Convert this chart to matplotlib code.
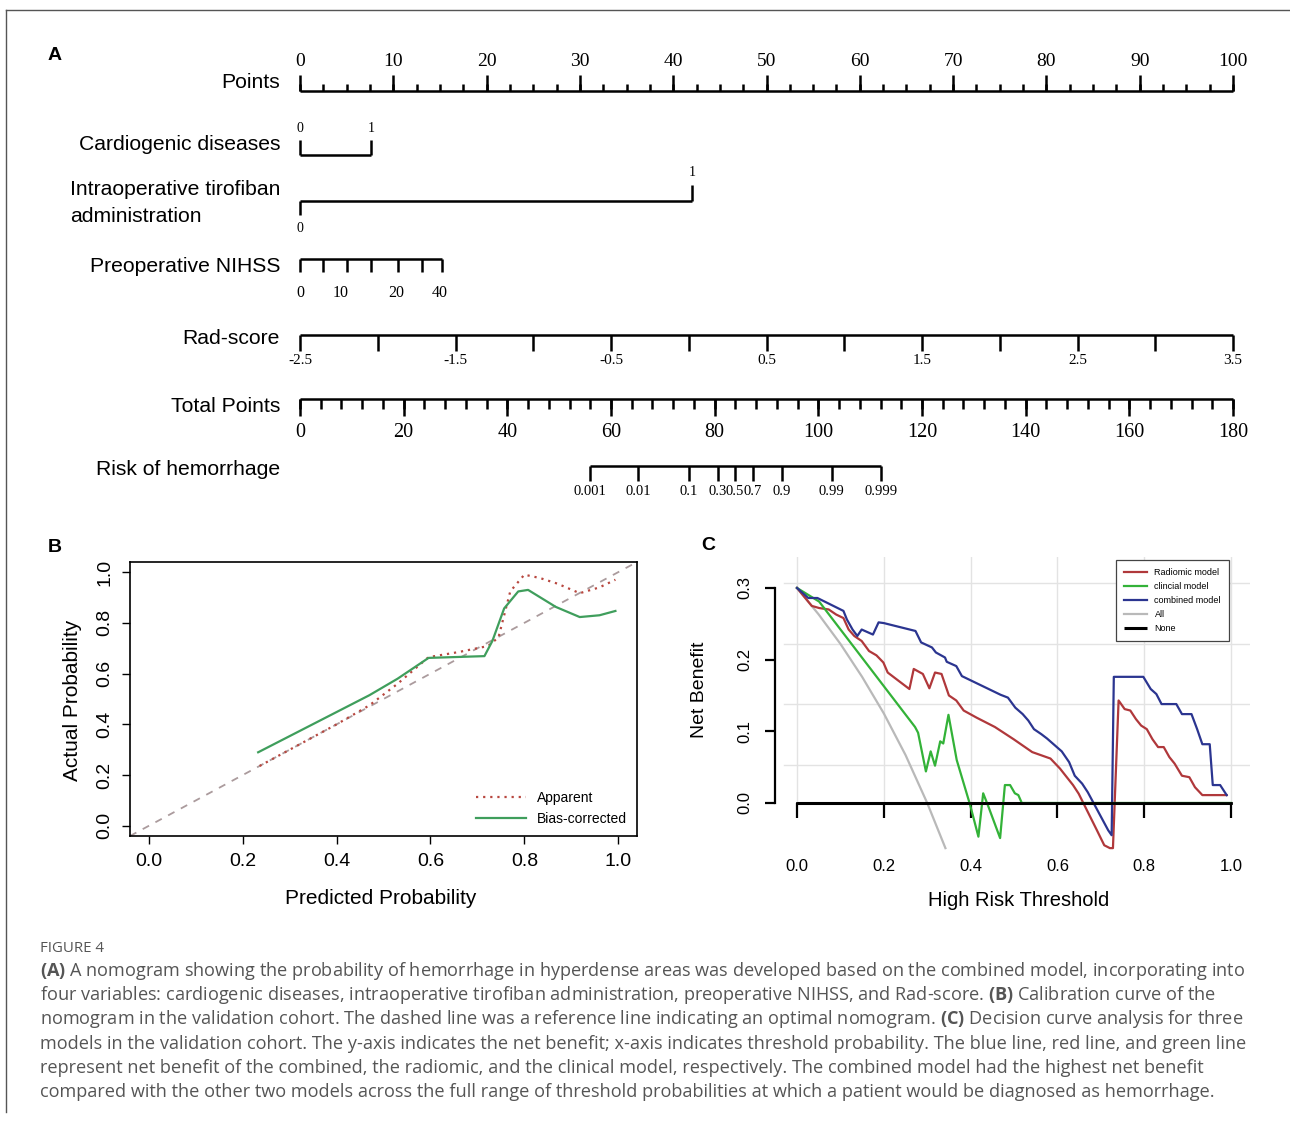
import numpy as np
import matplotlib
matplotlib.use("Agg")
import matplotlib.pyplot as plt
from matplotlib.lines import Line2D

W, H = 1290, 1122
SANS = "Liberation Sans"
SERIF = "Liberation Serif"

plt.rcParams["font.family"] = [SANS, "DejaVu Sans"]
plt.rcParams["mathtext.fontset"] = "custom"
plt.rcParams["mathtext.rm"] = "Open Sans"
plt.rcParams["mathtext.bf"] = "Open Sans:bold"

# ---------------- data: panel A (nomogram, positions in "Points" units)
points_major = np.arange(0, 101, 10)
points_minor = np.arange(0, 100.1, 2.5)
cardio_pts = [0, 7.6]
cardio_lab = ["0", "1"]
tiro_pts = [0, 42.0]
tiro_lab = ["0", "1"]
nihss_tick_pts = [0, 2.5, 5.0, 7.6, 10.5, 13.1, 15.2]
nihss_lab_pts = [0, 4.4, 10.3, 15.0]
nihss_lab = ["0", "10", "20", "40"]
rad_ticks = np.arange(-2.5, 3.51, 0.5)
rad_labels = [-2.5, -1.5, -0.5, 0.5, 1.5, 2.5, 3.5]
total_minor = np.arange(0, 181, 4)
total_major = np.arange(0, 181, 20)
risk_labels = ["0.001", "0.01", "0.1", "0.3", "0.5", "0.7", "0.9", "0.99", "0.999"]
risk_total = [55.9, 65.2, 75.0, 80.6, 83.9, 87.4, 93.0, 102.6, 112.1]

# ---------------- data: panel B (calibration)
app_x = [0.236, 0.30, 0.40, 0.47, 0.53, 0.596, 0.66, 0.723, 0.745, 0.77, 0.80, 0.833, 0.87, 0.918, 0.96, 0.994]
app_y = [0.236, 0.30, 0.40, 0.475, 0.56, 0.665, 0.685, 0.709, 0.743, 0.924, 0.99, 0.977, 0.955, 0.917, 0.94, 0.97]
bc_x = [0.233, 0.47, 0.53, 0.596, 0.715, 0.732, 0.757, 0.787, 0.808, 0.867, 0.918, 0.96, 0.994]
bc_y = [0.29, 0.515, 0.58, 0.662, 0.669, 0.729, 0.857, 0.924, 0.930, 0.863, 0.823, 0.83, 0.847]

# ---------------- data: panel C (decision curves)
comb_x = [0, 0.026, 0.047, 0.077, 0.107, 0.115, 0.128, 0.139, 0.149, 0.175, 0.188, 0.2, 0.273, 0.286,
          0.311, 0.32, 0.341, 0.345, 0.367, 0.38, 0.469, 0.486, 0.503, 0.52, 0.533, 0.546, 0.563,
          0.576, 0.61, 0.627, 0.64, 0.657, 0.67, 0.717, 0.725, 0.73, 0.798, 0.815, 0.828, 0.84,
          0.874, 0.887, 0.909, 0.922, 0.934, 0.951, 0.958, 0.975, 0.99]
comb_y = [0.3, 0.286, 0.286, 0.277, 0.268, 0.256, 0.242, 0.233, 0.242, 0.235, 0.252, 0.251, 0.240, 0.224,
          0.217, 0.21, 0.203, 0.197, 0.191, 0.177, 0.151, 0.147, 0.133, 0.124, 0.115, 0.103, 0.096,
          0.090, 0.072, 0.057, 0.038, 0.027, 0.015, -0.038, -0.045, 0.176, 0.176, 0.159, 0.152, 0.138,
          0.138, 0.124, 0.124, 0.103, 0.082, 0.082, 0.025, 0.025, 0.011]
rad_x = [0, 0.034, 0.051, 0.073, 0.09, 0.107, 0.119, 0.132, 0.149, 0.166, 0.183, 0.199, 0.209, 0.235,
         0.259, 0.269, 0.29, 0.305, 0.318, 0.333, 0.35, 0.367, 0.384, 0.414, 0.456, 0.499, 0.542,
         0.584, 0.606, 0.619, 0.636, 0.649, 0.67, 0.691, 0.708, 0.721, 0.728, 0.741, 0.755, 0.768,
         0.781, 0.793, 0.806, 0.819, 0.832, 0.845, 0.858, 0.87, 0.887, 0.904, 0.917, 0.934, 0.99]
rad_y = [0.3, 0.275, 0.272, 0.270, 0.263, 0.258, 0.242, 0.233, 0.226, 0.212, 0.206, 0.196, 0.182, 0.170,
         0.159, 0.187, 0.18, 0.160, 0.182, 0.180, 0.150, 0.143, 0.129, 0.119, 0.106, 0.089, 0.071,
         0.062, 0.048, 0.038, 0.025, 0.013, -0.0125, -0.038, -0.059, -0.063, -0.063, 0.143, 0.131, 0.129,
         0.117, 0.108, 0.103, 0.089, 0.078, 0.078, 0.064, 0.055, 0.038, 0.036, 0.022, 0.011, 0.011]
clin_x = [0, 0.051, 0.272, 0.279, 0.297, 0.308, 0.318, 0.33, 0.337, 0.349, 0.368, 0.399, 0.418, 0.429,
          0.441, 0.468, 0.479, 0.491, 0.502, 0.51, 0.518, 1.0]
clin_y = [0.3, 0.281, 0.106, 0.098, 0.044, 0.072, 0.052, 0.086, 0.083, 0.123, 0.06, -0.003, -0.047, 0.0135,
          -0.005, -0.049, 0.025, 0.025, 0.0135, 0.011, 0.0, 0.0]
all_x = [0, 0.05, 0.1, 0.15, 0.2, 0.25, 0.3, 0.342]
all_y = [0.3, 0.263, 0.222, 0.176, 0.125, 0.067, 0.0, -0.063]
none_x = [0, 1]
none_y = [0, 0]

caption = [
    r"$\bf{(A)}$ A nomogram showing the probability of hemorrhage in hyperdense areas was developed based on the combined model, incorporating into",
    r"four variables: cardiogenic diseases, intraoperative tirofiban administration, preoperative NIHSS, and Rad-score. $\bf{(B)}$ Calibration curve of the",
    r"nomogram in the validation cohort. The dashed line was a reference line indicating an optimal nomogram. $\bf{(C)}$ Decision curve analysis for three",
    "models in the validation cohort. The y-axis indicates the net benefit; x-axis indicates threshold probability. The blue line, red line, and green line",
    "represent net benefit of the combined, the radiomic, and the clinical model, respectively. The combined model had the highest net benefit",
    "compared with the other two models across the full range of threshold probabilities at which a patient would be diagnosed as hemorrhage.",
]


def px_rect(x0, y0, x1, y1):
    return [x0 / W, 1 - y1 / H, (x1 - x0) / W, (y1 - y0) / H]


fig = plt.figure(figsize=(W / 100, H / 100), dpi=100)

# frame
fig.add_artist(Line2D([6 / W, 1], [1 - 10 / H] * 2, transform=fig.transFigure, color="#555555", lw=1))
fig.add_artist(Line2D([6 / W] * 2, [1 - 10 / H, 1 - 1112 / H], transform=fig.transFigure, color="#555555", lw=1))

# ---------------- panel A
ax = fig.add_axes(px_rect(0, 20, W, 520))
ppu = (1233 - 300) / 100.0
ax.set_xlim(-300 / ppu, (W - 300) / ppu)
ax.set_ylim(520, 20)
ax.axis("off")
LW = 1.8
kw = dict(color="black", lw=LW, solid_capstyle="butt")
vkw = dict(color="black", linewidths=LW, capstyle="butt")
lab_x = -20 / ppu
LAB_FS = 15.2


def row_label(y, s, ha="right", x=lab_x):
    ax.text(x, y, s, ha=ha, va="center", fontsize=LAB_FS, family=SANS)


# Points
y = 91
ax.plot([0, 100], [y, y], **kw)
ax.vlines(points_major, y - 16, y, **vkw)
ax.vlines(points_minor, y - 7, y, **vkw)
for p in points_major:
    ax.text(p, 61, str(p), ha="center", va="center", fontsize=14, family=SERIF)
row_label(83, "Points")

# Cardiogenic diseases
y = 155
ax.plot(cardio_pts, [y, y], **kw)
ax.vlines(cardio_pts, y - 15, y, **vkw)
for p, s in zip(cardio_pts, cardio_lab):
    ax.text(p, 128, s, ha="center", va="center", fontsize=10, family=SERIF)
row_label(144, "Cardiogenic diseases")

# Intraoperative tirofiban administration
y = 201
ax.plot(tiro_pts, [y, y], **kw)
ax.vlines([tiro_pts[1]], y - 16, y, **vkw)
ax.vlines([tiro_pts[0]], y, y + 14, **vkw)
ax.text(tiro_pts[1], 172, tiro_lab[1], ha="center", va="center", fontsize=10, family=SERIF)
ax.text(tiro_pts[0], 228, tiro_lab[0], ha="center", va="center", fontsize=10, family=SERIF)
ax.text((70 - 300) / ppu, 203, "Intraoperative tirofiban\nadministration", ha="left", va="center",
        fontsize=LAB_FS, family=SANS, linespacing=1.55)

# Preoperative NIHSS
y = 259
ax.plot([nihss_tick_pts[0], nihss_tick_pts[-1]], [y, y], **kw)
ax.vlines(nihss_tick_pts, y, y + 13, **vkw)
for p, s in zip(nihss_lab_pts, nihss_lab):
    ax.text(p, 293, s, ha="center", va="center", fontsize=11.5, family=SERIF)
row_label(266, "Preoperative NIHSS")

# Rad-score
y = 335
rad_pts = np.interp(rad_ticks, [-2.5, 3.5], [0, 100])
ax.plot([0, 100], [y, y], **kw)
ax.vlines(rad_pts, y, y + 16, **vkw)
for r in rad_labels:
    ax.text(np.interp(r, [-2.5, 3.5], [0, 100]), 361, f"{r:g}", ha="center", va="center",
            fontsize=11, family=SERIF)
row_label(338, "Rad-score")

# Total Points
y = 399
tot = lambda t: np.asarray(t) * 100 / 180.0
ax.plot([0, 100], [y, y], **kw)
ax.vlines(tot(total_minor), y, y + 10, **vkw)
ax.vlines(tot(total_major), y, y + 17, **vkw)
for t in total_major:
    ax.text(tot(t), 433, str(t), ha="center", va="center", fontsize=14.5, family=SERIF)
row_label(407, "Total Points")

# Risk of hemorrhage
y = 466
rp = tot(risk_total)
ax.plot([rp[0], rp[-1]], [y, y], **kw)
ax.vlines(rp, y, y + 15, **vkw)
for p, s in zip(rp, risk_labels):
    ax.text(p, 492, s, ha="center", va="center", fontsize=10.5, family=SERIF)
row_label(470, "Risk of hemorrhage")

fig.text(48 / W, 1 - 55 / H, "A", fontsize=14, fontweight="bold", family=SANS, va="center")
fig.text(48 / W, 1 - 547 / H, "B", fontsize=14, fontweight="bold", family=SANS, va="center")
fig.text(701 / W, 1 - 545 / H, "C", fontsize=14, fontweight="bold", family=SANS, va="center")

# ---------------- panel B
axb = fig.add_axes(px_rect(130, 562, 637, 836))
axb.set_xlim(-0.04, 1.04)
axb.set_ylim(-0.04, 1.04)
axb.plot([-0.04, 1.04], [-0.04, 1.04], ls=(0, (4, 4)), color="#ab9b9d", lw=1.3)
axb.plot(app_x, app_y, ls=(0, (1, 2.2)), color="#b8473f", lw=1.6, label="Apparent")
axb.plot(bc_x, bc_y, color="#3f9e5c", lw=1.6, label="Bias-corrected")
ticks = np.arange(0, 1.01, 0.2)
axb.set_xticks(ticks)
axb.set_yticks(ticks)
axb.set_xticklabels([f"{t:.1f}" for t in ticks])
axb.set_yticklabels([f"{t:.1f}" for t in ticks], rotation=90, va="center")
axb.tick_params(length=6, width=1, pad=6, labelsize=14)
for s in axb.spines.values():
    s.set_linewidth(1.2)
leg = axb.legend(loc="lower right", frameon=False, fontsize=10, handlelength=3.6,
                 borderaxespad=0.3, labelspacing=0.5)
fig.text(72 / W, 1 - 700 / H, "Actual Probability", rotation=90, ha="center", va="center", fontsize=15)
fig.text(381 / W, 1 - 898 / H, "Predicted Probability", ha="center", va="center", fontsize=15)

# ---------------- panel C
axc = fig.add_axes(px_rect(775, 557, 1250, 852))
axc.set_xlim(-0.0507, 1.0438)
axc.set_ylim(-0.0684, 0.3432)
for gx in ticks:
    axc.plot([gx, gx], [0, 0.3432], color="#e3e3e3", lw=1, zorder=0)
for gy in [0.053, 0.138, 0.222, 0.307]:
    axc.plot([-0.03, 1.0438], [gy, gy], color="#e3e3e3", lw=1, zorder=0)
axc.plot(all_x, all_y, color="#b9b9b9", lw=1.6, label="All")
axc.plot(none_x, none_y, color="black", lw=2.2, label="None", solid_capstyle="butt")
axc.plot(rad_x, rad_y, color="#b0383b", lw=1.6, label="Radiomic model")
axc.plot(clin_x, clin_y, color="#33b238", lw=1.6, label="clincial model")
axc.plot(comb_x, comb_y, color="#2b3590", lw=1.6, label="combined model")
for s in ["top", "right"]:
    axc.spines[s].set_visible(False)
axc.spines["bottom"].set_position(("data", 0))
axc.spines["bottom"].set_bounds(0, 1)
axc.spines["bottom"].set_linewidth(2)
axc.spines["left"].set_bounds(0, 0.3)
axc.spines["left"].set_linewidth(1.6)
axc.set_xticks(ticks)
axc.set_xticklabels([f"{t:.1f}" for t in ticks])
axc.set_yticks([0, 0.1, 0.2, 0.3])
axc.set_yticklabels(["0.0", "0.1", "0.2", "0.3"], rotation=90, va="center")
axc.tick_params(axis="x", length=11, width=1.6, pad=29, labelsize=12)
axc.tick_params(axis="y", length=7, width=1.6, pad=9, labelsize=12)
h, l = axc.get_legend_handles_labels()
order = [l.index(n) for n in ["Radiomic model", "clincial model", "combined model", "All", "None"]]
lg = axc.legend([h[i] for i in order], [l[i] for i in order], loc="upper right",
                bbox_to_anchor=((1229 - 775) / 475, (852 - 560) / 295), fontsize=6.5,
                fancybox=False, framealpha=1, edgecolor="#444444", handlelength=2.6,
                borderpad=0.9, labelspacing=0.55, borderaxespad=0)
lg.get_frame().set_linewidth(0.9)
fig.text(700 / W, 1 - 690 / H, "Net Benefit", rotation=90, ha="center", va="center", fontsize=14)
fig.text(1019 / W, 1 - 900 / H, "High Risk Threshold", ha="center", va="center", fontsize=14.5)

# ---------------- caption
fig.text(40 / W, 1 - 948 / H, "FIGURE 4", fontsize=10.8, color="#555555", family="Open Sans", va="center")
for i, line in enumerate(caption):
    fig.text(40 / W, 1 - (971 + 24.2 * i) / H, line, fontsize=13.1, color="#555555",
             family="Open Sans", va="center")

fig.savefig("out.png", dpi=100)
